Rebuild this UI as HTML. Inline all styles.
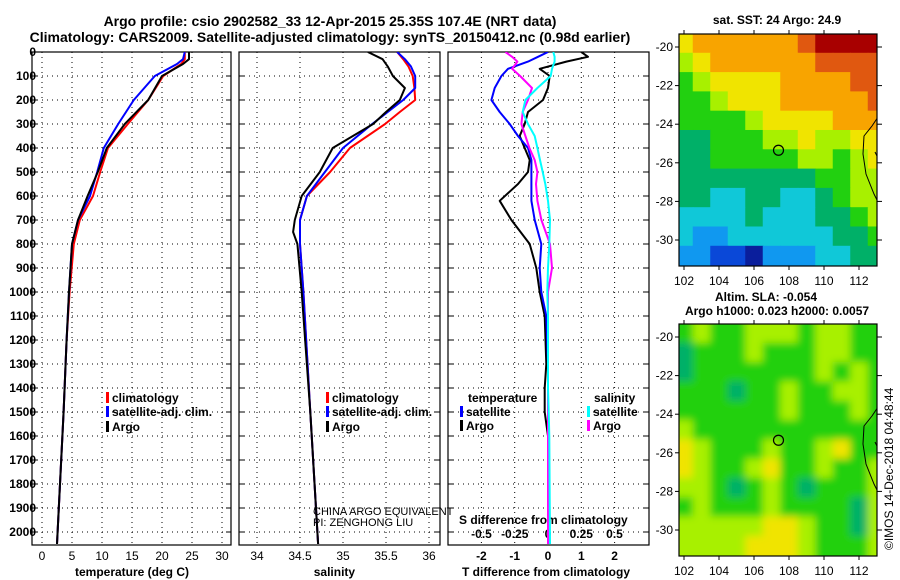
<!DOCTYPE html>
<html><head><meta charset="utf-8"><style>
body{margin:0;background:#fff}
svg{display:block;font-family:"Liberation Sans",sans-serif}
</style></head><body>
<svg id="c" width="900" height="580" viewBox="0 0 900 580">
<defs>
<clipPath id="cp1"><rect x="32" y="52" width="199" height="493"/></clipPath>
<clipPath id="cp2"><rect x="239" y="52" width="201" height="493"/></clipPath>
<clipPath id="cp3"><rect x="448" y="52" width="201" height="493"/></clipPath>
<clipPath id="cm1"><rect x="679" y="34" width="198" height="232"/></clipPath>
<clipPath id="cm2"><rect x="679" y="324" width="198" height="232"/></clipPath>
<filter id="bl" x="-10%" y="-10%" width="120%" height="120%"><feGaussianBlur stdDeviation="4"/></filter>
</defs>
<text x="330" y="26" text-anchor="middle" font-size="14" font-weight="bold">Argo profile: csio 2902582_33 12-Apr-2015 25.35S 107.4E (NRT data)</text>
<text x="330" y="42" text-anchor="middle" font-size="14" font-weight="bold">Climatology: CARS2009. Satellite-adjusted climatology: synTS_20150412.nc (0.98d earlier)</text>
<g id="g"></g>
</svg>
<script>
// ---- profile data ----
const depthT = [0,30,50,100,200,300,400,500,600,700,800,1000,1200,1500,1800,2050];
const tempArgo = [24.5,24.5,23.5,20,17.7,13.8,10.8,9.3,7.6,6,5,4.5,4.1,3.6,3.0,2.5];
const tempClim = [23.8,23.8,23.2,20.2,17.7,14.3,11,9.7,8.5,6.3,5.3,4.6,4.1,3.6,3.0,2.5];
const tempSat  = [23.8,23.5,22.5,18.8,15.3,12.7,10.3,9.2,8,6,5,4.5,4.1,3.6,3.0,2.5];
const depthS = [0,30,60,100,150,200,250,300,400,500,600,700,750,800,1000,1500,2050];
const salArgo = [35.29,35.46,35.52,35.58,35.72,35.66,35.5,35.35,34.88,34.73,34.52,34.44,34.42,34.47,34.52,34.62,34.71];
const salClim = [35.63,35.7,35.76,35.81,35.83,35.84,35.66,35.49,35.08,34.85,34.58,34.5,34.5,34.5,34.54,34.62,34.71];
const salSat  = [35.63,35.72,35.79,35.84,35.84,35.7,35.52,35.34,35.0,34.79,34.58,34.5,34.5,34.5,34.54,34.62,34.71];
const depthD = [0,20,40,70,100,150,200,250,300,350,400,450,500,550,620,700,800,900,1000,1100,1300,1400,1500,1600,2050];
const tdiffArgo = [1.0,1.2,0.55,-0.25,0.05,0,-0.15,-0.6,-0.7,-0.85,-0.7,-0.55,-0.6,-0.9,-1.45,-1.1,-0.55,-0.35,-0.25,-0.1,-0.05,-0.1,-0.1,0,0];
const tdiffSat  = [0,-0.3,-0.6,-1.2,-1.4,-1.6,-1.7,-1.45,-1.15,-0.9,-0.6,-0.5,-0.5,-0.5,-0.5,-0.4,-0.2,-0.25,-0.2,-0.05,0,0,0,0,0];
const sdiffArgo = [-0.32,-0.27,-0.23,-0.27,-0.21,-0.12,-0.15,-0.19,-0.2,-0.17,-0.14,-0.1,-0.08,-0.09,-0.08,-0.05,0.015,0.03,0,0,0,0,0,0,0];
const sdiffSat  = [0.04,0.05,0.05,0.03,0.02,-0.08,-0.17,-0.19,-0.15,-0.1,-0.08,-0.06,-0.04,-0.02,0,0.015,0.01,0,-0.005,0,0,0,0.005,0.01,0.015];
// ---- map data (color index 0..10) ----
const sstGrid = [
[7,8,8,8,8,8,8,9,10,10,10,10],
[6,7,8,8,8,8,8,8,9,9,9,9],
[5,6,7,7,7,7,8,8,8,8,9,9],
[5,5,6,7,7,7,8,8,8,8,8,9],
[5,5,5,5,6,7,7,7,7,8,8,8],
[4,4,5,5,5,6,6,7,6,6,7,7],
[4,4,5,5,5,5,5,6,6,5,6,7],
[4,4,4,4,4,4,4,4,5,5,6,6],
[4,4,3,3,4,4,3,3,4,5,6,6],
[3,3,3,3,4,3,3,3,4,4,5,6],
[3,2,2,3,3,3,3,3,3,4,4,5],
[2,2,1,1,0,2,2,2,3,3,4,4]];
const slaGrid = [
[5,6,5,5,6,6,6,5,6,6,5,5],
[4,5,5,5,6,5,5,5,6,6,5,5],
[4,5,5,5,5,5,5,5,6,5,6,5],
[5,5,5,4,5,5,6,5,5,6,6,5],
[5,5,5,5,5,5,6,5,5,5,6,5],
[6,5,5,5,5,5,5,5,5,5,5,5],
[7,6,5,5,5,6,5,5,6,7,5,5],
[7,6,5,5,6,7,5,5,6,5,5,6],
[6,6,5,4,5,6,5,4,5,5,5,6],
[5,6,5,5,5,6,5,5,5,5,4,6],
[6,6,6,6,6,7,7,6,5,5,4,6],
[6,6,6,6,7,7,7,6,5,5,5,6]];
const depthTicks = [0,100,200,300,400,500,600,700,800,900,1000,1100,1200,1300,1400,1500,1600,1700,1800,1900,2000];
const tTicks = [0,5,10,15,20,25,30];
const sTicks = [34,34.5,35,35.5,36];
const dTicks = [-2,-1,0,1,2];
const sdTicks = [-0.5,-0.25,0,0.25,0.5];
const sdTickLabels = ["-0.5","-0.25","0","0.25","0.5"];
const latTicks = [-20,-22,-24,-26,-28,-30];
const lonTicks = [102,104,106,108,110,112];
const argoLon = 107.4, argoLat = -25.35;

const NS="http://www.w3.org/2000/svg";
const G=document.getElementById('g');
function mk(tag,at,parent){const e=document.createElementNS(NS,tag);for(const k in at)e.setAttribute(k,at[k]);(parent||G).appendChild(e);return e;}
function txt(x,y,s,at,parent){const e=mk('text',Object.assign({x:x,y:y,'font-size':12,'font-weight':'bold'},at||{}),parent);e.textContent=s;return e;}
const yD=d=>52+d*0.24;
const xT=t=>42+6*t;
const xS=s=>257+86*(s-34);
const xTD=t=>548+33.3*t;
const xSD=s=>548+133*s;
const panels=[[32,231,'cp1'],[239,440,'cp2'],[448,649,'cp3']];
panels.forEach((p,i)=>{
  const g=mk('g',{});
  
  
  depthTicks.forEach(d=>{ if(d>0) mk('line',{x1:p[0],x2:p[1],y1:yD(d),y2:yD(d),stroke:'#000','stroke-dasharray':'1 4'},g);
    mk('line',{x1:p[1]-5,x2:p[1],y1:yD(d),y2:yD(d),stroke:'#000'},g);
    mk('line',{x1:p[0],x2:p[0]+5,y1:yD(d),y2:yD(d),stroke:'#000'},g);});
  const xs = i==0?tTicks.map(xT):i==1?sTicks.map(xS):dTicks.map(xTD);
  xs.forEach(x=>mk('line',{x1:x,x2:x,y1:52,y2:545,stroke:'#000','stroke-dasharray':'1 4'},g));
  const r=mk('rect',{x:p[0],y:52,width:p[1]-p[0],height:493,fill:'none',stroke:'#000','stroke-width':1.2},g);
  
  
});
depthTicks.forEach(d=>{const t=txt(36,yD(d)+4,String(d),{'text-anchor':'end'});
  
  });
tTicks.forEach(v=>{const t=txt(xT(v),560,String(v),{'text-anchor':'middle','font-weight':'normal'});
  
  });
sTicks.forEach(v=>{const t=txt(xS(v),560,String(v),{'text-anchor':'middle','font-weight':'normal'});
  
  });
dTicks.forEach(v=>{const t=txt(xTD(v),560,String(v),{'text-anchor':'middle'});
  
  });
sdTicks.forEach((v,i)=>{const t=txt(xSD(v),538,sdTickLabels[i],{'text-anchor':'middle'});
  
  });
[[xT(15),'temperature (deg C)','x-axis-title-temperature'],[xS(34.9),'salinity','x-axis-title-salinity'],[xTD(0)-2,'T difference from climatology','x-axis-title-tdiff']].forEach(a=>{
  const t=txt(a[0],576,a[1],{'text-anchor':'middle'});
  
  });
{const t=txt(459,524,'S difference from climatology',{});
  
  }
function line(xs,ds,fx,col,clip,name){
  const pts=xs.map((v,i)=>fx(v).toFixed(1)+','+yD(ds[i]).toFixed(1)).join(' ');
  const e=mk('polyline',{points:pts,fill:'none',stroke:col,'stroke-width':2,'stroke-linejoin':'round','clip-path':'url(#'+clip+')'});
  
  
}
line(tempClim,depthT,xT,'#f00','cp1','temp-climatology-line');
line(tempSat,depthT,xT,'#00f','cp1','temp-satellite-line');
line(tempArgo,depthT,xT,'#000','cp1','temp-argo-line');
line(salClim,depthS,xS,'#f00','cp2','sal-climatology-line');
line(salSat,depthS,xS,'#00f','cp2','sal-satellite-line');
line(salArgo,depthS,xS,'#000','cp2','sal-argo-line');
line(tdiffArgo,depthD,xTD,'#000','cp3','tdiff-argo-line');
line(tdiffSat,depthD,xTD,'#00f','cp3','tdiff-satellite-line');
line(sdiffArgo,depthD,xSD,'#f0f','cp3','sdiff-argo-line');
line(sdiffSat,depthD,xSD,'#0ff','cp3','sdiff-satellite-line');
function leg(x,y,col,label){
  const g=mk('g',{});
  
  
  mk('rect',{x:x,y:y-10,width:3,height:11,fill:col},g);
  txt(x+6,y,label,{},g);
}
leg(106,402,'#f00','climatology');leg(106,416,'#00f','satellite-adj. clim.');leg(106,431,'#000','Argo');
leg(326,402,'#f00','climatology');leg(326,416,'#00f','satellite-adj. clim.');leg(326,431,'#000','Argo');
{const t=txt(468,402,'temperature',{});}
{const t=txt(594,402,'salinity',{});}
leg(460,416,'#00f','satellite');leg(460,430,'#000','Argo');
leg(587,416,'#0ff','satellite');leg(587,430,'#f0f','Argo');
{const t=txt(313,515,'CHINA ARGO EQUIVALENT',{'font-weight':'normal','font-size':11});}
{const t=txt(313,526,'PI: ZENGHONG LIU',{'font-weight':'normal','font-size':11});}
// maps
const cmap=['#0a1e9c','#0a48d8','#1098f0','#10c8d8','#00b068','#22d010','#a8f000','#f0e400','#f8a400','#e05810','#a80000'];
const lonX=l=>684+17.5*(l-102);
const latY0=(la,top)=>top+13+19.3*(-20-la);
function drawMap(grid,top,clip,name,blur){
  const g=mk('g',{'clip-path':'url(#'+clip+')'});
  
  
  const inner=mk('g',blur?{filter:'url(#bl)'}:{},g);
  mk('rect',{x:670,y:top-10,width:220,height:252,fill:cmap[5]},inner);
  grid.forEach((row,r)=>row.forEach((v,c)=>{
    const lon0=101.5+c, la0=-19.3-r;
    const x=lonX(lon0), y=latY0(la0,top);
    const w=c==11?30:17.5+0.6, h=r==11?30:19.3+0.6;
    const cell=mk('rect',{x:c==0?x-10:x,y:r==0?y-10:y,width:c==0?w+10:w,height:r==0?h+10:h,fill:cmap[v]},inner);
    
    
  }));
  const coast=mk('path',{d:`M878 ${top+83} L872 ${top+92} L864 ${top+102} L863 ${top+120} L866 ${top+140} L874 ${top+160} L877 ${top+166} M875 ${top+118} L878 ${top+124}`,fill:'none',stroke:'#000','stroke-width':1},g);
  
  
  const m=mk('circle',{cx:lonX(argoLon),cy:latY0(argoLat,top),r:5,fill:'none',stroke:'#000','stroke-width':1.2},g);
  
  
  const f=mk('rect',{x:679,y:top,width:198,height:232,fill:'none',stroke:'#000','stroke-width':1.2});
  
  
  latTicks.forEach(la=>{const y=latY0(la,top);
    mk('line',{x1:877,x2:882,y1:y,y2:y,stroke:'#000'});
    mk('line',{x1:675,x2:679,y1:y,y2:y,stroke:'#000'});
    const t=txt(673,y+4,String(la),{'font-weight':'normal','text-anchor':'end'});
    
    });
  lonTicks.forEach(lo=>{const x=lonX(lo);
    mk('line',{x1:x,x2:x,y1:top,y2:top-4,stroke:'#000'});
    mk('line',{x1:x,x2:x,y1:top+232,y2:top+236,stroke:'#000'});
    const t=txt(x,top+251,String(lo),{'text-anchor':'middle','font-weight':'normal'});
    
    });
}
drawMap(sstGrid,34,'cm1','sst-map',false);
drawMap(slaGrid,324,'cm2','sla-map',true);
{const t=txt(777,24,'sat. SST: 24 Argo: 24.9',{'text-anchor':'middle'});}
{const t=txt(766,301,'Altim. SLA: -0.054',{'text-anchor':'middle'});}
{const t=txt(777,315,'Argo h1000: 0.023 h2000: 0.0057',{'text-anchor':'middle'});}
{const t=txt(0,0,'©IMOS 14-Dec-2018 04:48:44',{'font-weight':'normal','transform':'translate(893,550) rotate(-90)'});}
</script>
</body></html>
